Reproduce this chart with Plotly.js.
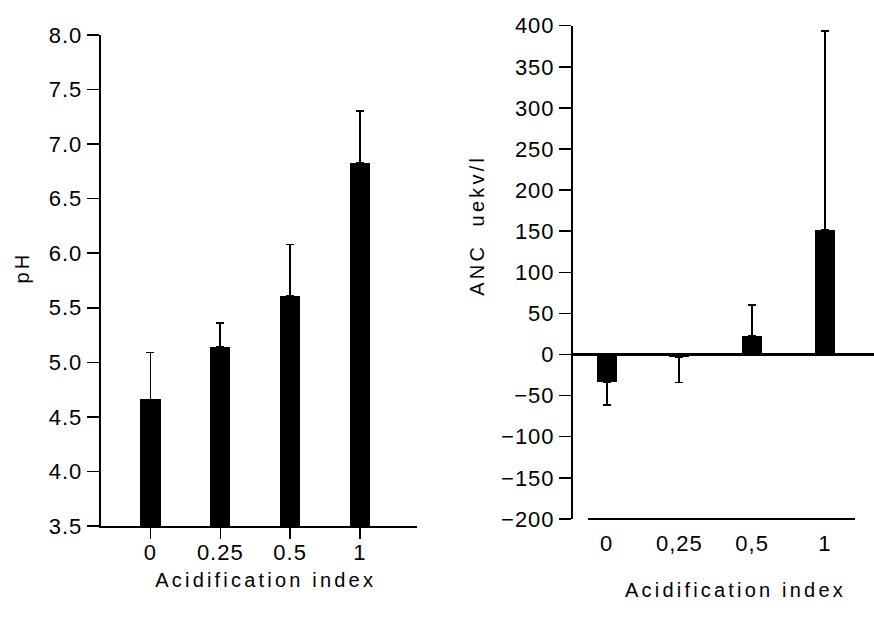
<!DOCTYPE html>
<html>
<head>
<meta charset="utf-8">
<script src="https://cdn.plot.ly/plotly-3.0.1.min.js"></script>
<style>
  html, body { margin: 0; padding: 0; background: #fff; }
  #chart { width: 874px; height: 623px; }
</style>
</head>
<body>
<div id="chart"></div>
<script>
// ---- Data ----
const categoriesPH = ['0', '0.25', '0.5', '1'];
const phMean = [4.66, 5.14, 5.61, 6.83];
const phErrUp = [0.43, 0.22, 0.47, 0.47];

const categoriesANC = ['0', '0,25', '0,5', '1'];
const ancMean = [-33, -3, 23, 152];
const ancErrUp = [0, 0, 37, 242];
const ancErrDown = [28, 31, 0, 0];

const xTitle = 'Acidification index';
const phTitle = 'pH';
const ancTitle = 'ANC\u00a0\u00a0uekv/l';

// ---- Styling ----
const FONT = 'Liberation Sans, Arial, Helvetica, sans-serif';
const tickFont = { family: FONT, size: 22, color: '#000' };
const titleFont = { family: FONT, size: 20, color: '#000' };

const traces = [
  {
    type: 'bar',
    x: categoriesPH,
    y: phMean,
    xaxis: 'x', yaxis: 'y',
    width: 0.287,
    marker: { color: '#000', line: { width: 0 } },
    error_y: {
      type: 'data', symmetric: false,
      array: phErrUp, arrayminus: phErrUp.map(() => 0),
      color: '#000', thickness: 1.8, width: 4
    },
    hoverinfo: 'x+y'
  },
  {
    type: 'bar',
    x: categoriesANC,
    y: ancMean,
    xaxis: 'x2', yaxis: 'y2',
    width: 0.275,
    marker: { color: '#000', line: { width: 0 } },
    error_y: {
      type: 'data', symmetric: false,
      array: ancErrUp, arrayminus: ancErrDown,
      color: '#000', thickness: 1.8, width: 4
    },
    hoverinfo: 'x+y'
  }
];

const layout = {
  width: 874, height: 623,
  margin: { l: 0, r: 0, t: 0, b: 0, pad: 0 },
  paper_bgcolor: '#fff', plot_bgcolor: '#fff',
  showlegend: false,
  bargap: 0,
  xaxis: {
    domain: [0.1152, 0.4768], anchor: 'y',
    type: 'category', range: [-0.7135, 3.814],
    showline: true, linewidth: 2, linecolor: '#000',
    ticks: 'outside', ticklen: 11, tickwidth: 1.5, tickcolor: '#000',
    ticklabelstandoff: -5,
    showgrid: false, zeroline: false,
    tickfont: tickFont,
    title: { text: xTitle, font: titleFont, standoff: 12 }
  },
  yaxis: {
    domain: [0.1557, 0.9438], anchor: 'x',
    range: [3.5, 8.0], dtick: 0.5, tick0: 3.5, tickformat: '.1f',
    showline: true, linewidth: 2, linecolor: '#000',
    ticks: 'outside', ticklen: 12, tickwidth: 1.5, tickcolor: '#000',
    showgrid: false, zeroline: false,
    tickfont: tickFont,
    title: { text: phTitle, font: titleFont, standoff: 17 }
  },
  xaxis2: {
    domain: [0.6556, 1.0], anchor: 'y2',
    type: 'category', range: [-0.4635, 3.677],
    showline: false,
    ticks: 'outside', ticklen: 8, tickcolor: 'rgba(0,0,0,0)',
    ticklabelstandoff: -3,
    showgrid: false, zeroline: false,
    tickfont: tickFont,
    title: { text: xTitle, font: titleFont, standoff: 28 }
  },
  yaxis2: {
    domain: [0.1671, 0.9587], anchor: 'x2',
    range: [-200, 400], dtick: 50, tick0: 0,
    showline: true, linewidth: 2, linecolor: '#000',
    ticks: 'outside', ticklen: 12, tickwidth: 1.5, tickcolor: '#000',
    showgrid: false,
    zeroline: true, zerolinewidth: 2.5, zerolinecolor: '#000',
    tickfont: tickFont,
    title: { text: ancTitle, font: titleFont, standoff: 15 }
  },
  shapes: [
    {
      type: 'line', xref: 'paper', yref: 'paper',
      x0: 0.6728, x1: 0.9783, y0: 0.1671, y1: 0.1671,
      line: { color: '#000', width: 2 }
    }
  ]
};

Plotly.newPlot('chart', traces, layout, { displayModeBar: false, staticPlot: true }).then(function (gd) {
  // widen the lettering like the original figure text
  gd.querySelectorAll('.g-xtitle text, .g-x2title text, .g-ytitle text, .g-y2title text').forEach(function (t) {
    t.style.letterSpacing = '3.2px';
  });
  gd.querySelectorAll('.xtick text, .x2tick text, .ytick text, .y2tick text').forEach(function (t) {
    t.style.letterSpacing = '1px';
  });
  // nudge titles to where they sit in the original
  const nudge = { '.g-xtitle': [7, -3], '.g-x2title': [12, -1], '.g-y2title': [0, -47], '.g-ytitle': [0, -13] };
  Object.keys(nudge).forEach(function (sel) {
    const g = gd.querySelector(sel);
    if (g) g.setAttribute('transform', 'translate(' + nudge[sel][0] + ',' + nudge[sel][1] + ')');
  });
});
</script>
</body>
</html>
